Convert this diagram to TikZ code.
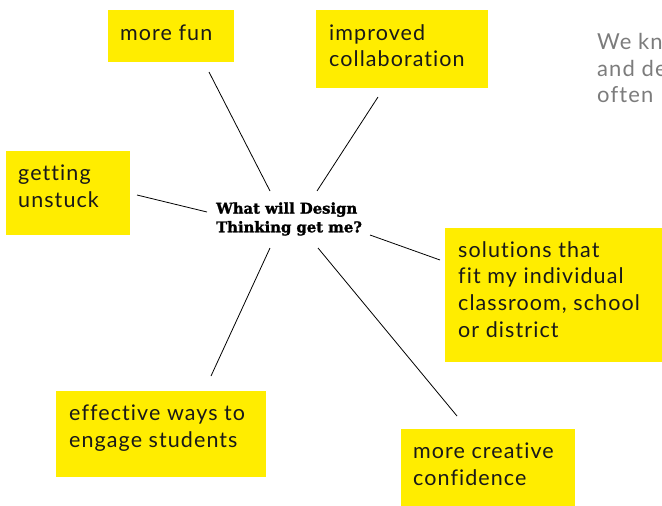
\documentclass[tikz,border=0pt]{standalone}
\usepackage{fontspec}
\setmainfont[LetterSpace=5, Ligatures={NoCommon}]{Lato}
\newfontfamily\slabfont[FakeBold=1.6]{DejaVu Serif Bold}
\definecolor{hiyellow}{HTML}{FFED00}
\definecolor{introgray}{HTML}{7C7C7C}
\tikzset{
  ybox/.style={fill=hiyellow, draw=none, anchor=north west, inner sep=0pt, outer sep=0pt},
  lbl/.style={anchor=base west, inner sep=0pt, align=left, text=black!90,
    font=\fontsize{21.5}{26.6}\selectfont},
  intro/.style={anchor=base west, inner sep=0pt, align=left, text=introgray,
    font=\fontsize{22}{26.7}\selectfont},
  spoke/.style={draw=black, line width=0.8pt},
  hub/.style={anchor=base west, inner sep=0pt, align=left,
    font=\slabfont\fontsize{14.8}{18.7}\selectfont}
}
\begin{document}
\begin{tikzpicture}[x=1pt,y=-1pt]
\useasboundingbox (0,0) rectangle (662,506);
% boxes
\node[ybox, minimum width=126pt, minimum height=52pt] (funbox) at (108,10) {};
\node[ybox, minimum width=172pt, minimum height=78pt] (colbox) at (316,10) {};
\node[ybox, minimum width=124pt, minimum height=84pt] (stuckbox) at (6,151) {};
\node[ybox, minimum width=217pt, minimum height=134pt] (solbox) at (445,228) {};
\node[ybox, minimum width=210pt, minimum height=86pt] (engbox) at (56,391) {};
\node[ybox, minimum width=174pt, minimum height=77pt] (crebox) at (401,429) {};
% labels (anchored at the baseline of their last line)
\node[lbl] (funtxt) at (120,40.5) {more fun};
\node[lbl] (coltxt) at (329,66.7) {improved\\collaboration};
\node[lbl] (stucktxt) at (18,207) {getting\\unstuck};
\node[lbl] (soltxt) at (458,337) {solutions that\\fit my individual\\classroom, school\\or district};
\node[lbl] (engtxt) at (69,447) {effective ways to\\engage students};
\node[lbl] (cretxt) at (413,485) {more creative\\confidence};
% intro text (cut by the page edge)
\node[intro] (introtxt) at (597,102.7) {We kn\\and de\\often};
% hub
\node[hub] (q) at (216,232.3) {What will Design\\Thinking get me?};
% spoke ends
\coordinate (f1) at (209,72);   \coordinate (f2) at (270,191);
\coordinate (c1) at (378,97);   \coordinate (c2) at (317,191);
\coordinate (u1) at (137,195);  \coordinate (u2) at (207,212);
\coordinate (s1) at (370,235);  \coordinate (s2) at (440,260);
\coordinate (e1) at (270,248);  \coordinate (e2) at (211,376);
\coordinate (r1) at (318,248);  \coordinate (r2) at (457,416);
\draw[spoke] (f1) -- (f2);
\draw[spoke] (c1) -- (c2);
\draw[spoke] (u1) -- (u2);
\draw[spoke] (s1) -- (s2);
\draw[spoke] (e1) -- (e2);
\draw[spoke] (r1) -- (r2);
\end{tikzpicture}
\end{document}
